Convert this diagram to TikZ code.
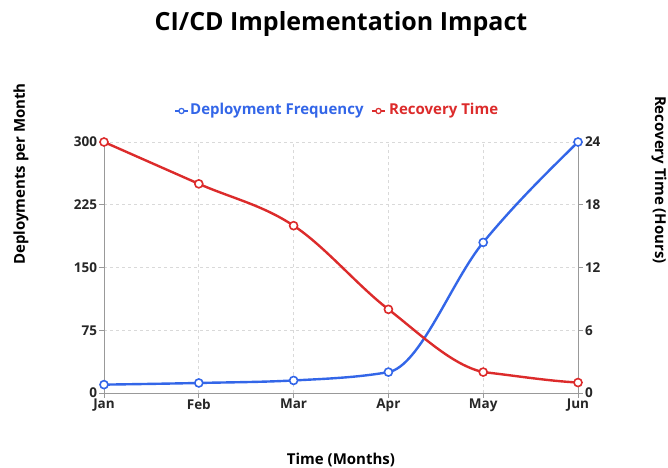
\documentclass[tikz,border=0pt]{standalone}
\usepackage{fontspec}
\setmainfont{Open Sans}
\usepackage{tikz}
\usetikzlibrary{calc}
\definecolor{gr}{gray}{0.85}
\definecolor{ax}{gray}{0.6}
\definecolor{bl}{HTML}{3366E8}
\definecolor{rd}{HTML}{DC2B2B}

\begin{document}
\begin{tikzpicture}[x=1pt, y=1pt, font=\bfseries,
  gridline/.style={gr, dashed, line width=0.8pt},
  axisline/.style={ax, line width=1pt},
  lbl/.style={font=\fontsize{13.5}{15}\selectfont\bfseries, text=black!85, inner sep=1.5pt},
  axtitle/.style={font=\fontsize{15}{17}\selectfont\bfseries},
  legtext/.style={anchor=west, font=\fontsize{15}{17}\selectfont\bfseries, inner sep=0pt},
  deployline/.style={bl, line width=2.4pt, line cap=round, line join=round},
  recoveryline/.style={rd, line width=2.4pt, line cap=round, line join=round},
  dot/.style={draw=#1, fill=white, line width=1.6pt}]
\useasboundingbox (0,0) rectangle (668,467);

\node[font=\fontsize{25}{28}\selectfont\bfseries] (title) at (341,443) {CI/CD Implementation Impact};

% legend
\draw[bl, line width=1.6pt] (175,356) -- (188,356);
\draw[dot=bl, line width=1.2pt] (181.5,356) circle (2.6pt);
\node[legtext, text=bl] (legdeploy) at (190,356) {Deployment Frequency};
\draw[rd, line width=1.6pt] (372,356) -- (385,356);
\draw[dot=rd, line width=1.2pt] (378.5,356) circle (2.6pt);
\node[legtext, text=rd] (legrecovery) at (389,356) {Recovery Time};

% axis titles
\node[axtitle, rotate=90] (ytitle) at (21,293) {Deployments per Month};
\node[axtitle, rotate=-90] (y2title) at (659,287) {Recovery Time (Hours)};
\node[axtitle] (xtitle) at (341,7) {Time (Months)};

\begin{scope}[shift={(104,74)}, x=94.8pt, y=0.83667pt]
\foreach \v in {75,150,225,300} \draw[gridline] (0,\v) -- (5,\v);
\foreach \m in {1,...,4} \draw[gridline] (\m,0) -- (\m,300);
\draw[axisline] (0,300) -- (0,0) -- (5,0) -- (5,300);
\foreach \v in {0,75,150,225,300}
  \draw[axisline] (0,\v) -- ++(-5pt,0) node[left, lbl] (ly\v) {\v};
\foreach \m/\t in {0/Jan,1/Feb,2/Mar,3/Apr,4/May,5/Jun}
  \draw[axisline] (\m,0) -- ++(0,-5pt) node[below, lbl, inner sep=0.5pt] (lx\m) {\t};
\foreach \h in {0,6,12,18,24}
  \draw[axisline] (5,\h*12.5) -- ++(5pt,0) node[right, lbl] (ry\h) {\h};

\draw[deployline] (0,10) .. controls (1/3,10.583) and (2/3,11.167) .. (1,12)
  .. controls (4/3,12.833) and (5/3,13) .. (2,15)
  .. controls (7/3,17) and (8/3,18.333) .. (3,25)
  .. controls (10/3,31.667) and (11/3,134.167) .. (4,180)
  .. controls (13/3,225.833) and (14/3,262.917) .. (5,300);
\foreach \m/\v in {0/10,1/12,2/15,3/25,4/180,5/300}
  \draw[dot=bl] (\m,\v) circle (4pt);
\end{scope}

\begin{scope}[shift={(104,74)}, x=94.8pt, y=10.4583pt]
\draw[recoveryline] (0,24) .. controls (1/3,22.667) and (2/3,21.333) .. (1,20)
  .. controls (4/3,18.667) and (5/3,18) .. (2,16)
  .. controls (7/3,14) and (8/3,10.333) .. (3,8)
  .. controls (10/3,5.667) and (11/3,2.667) .. (4,2)
  .. controls (13/3,1.667) and (14/3,1.167) .. (5,1);
\foreach \m/\h in {0/24,1/20,2/16,3/8,4/2,5/1}
  \draw[dot=rd] (\m,\h) circle (4pt);
\end{scope}
\end{tikzpicture}
\end{document}
